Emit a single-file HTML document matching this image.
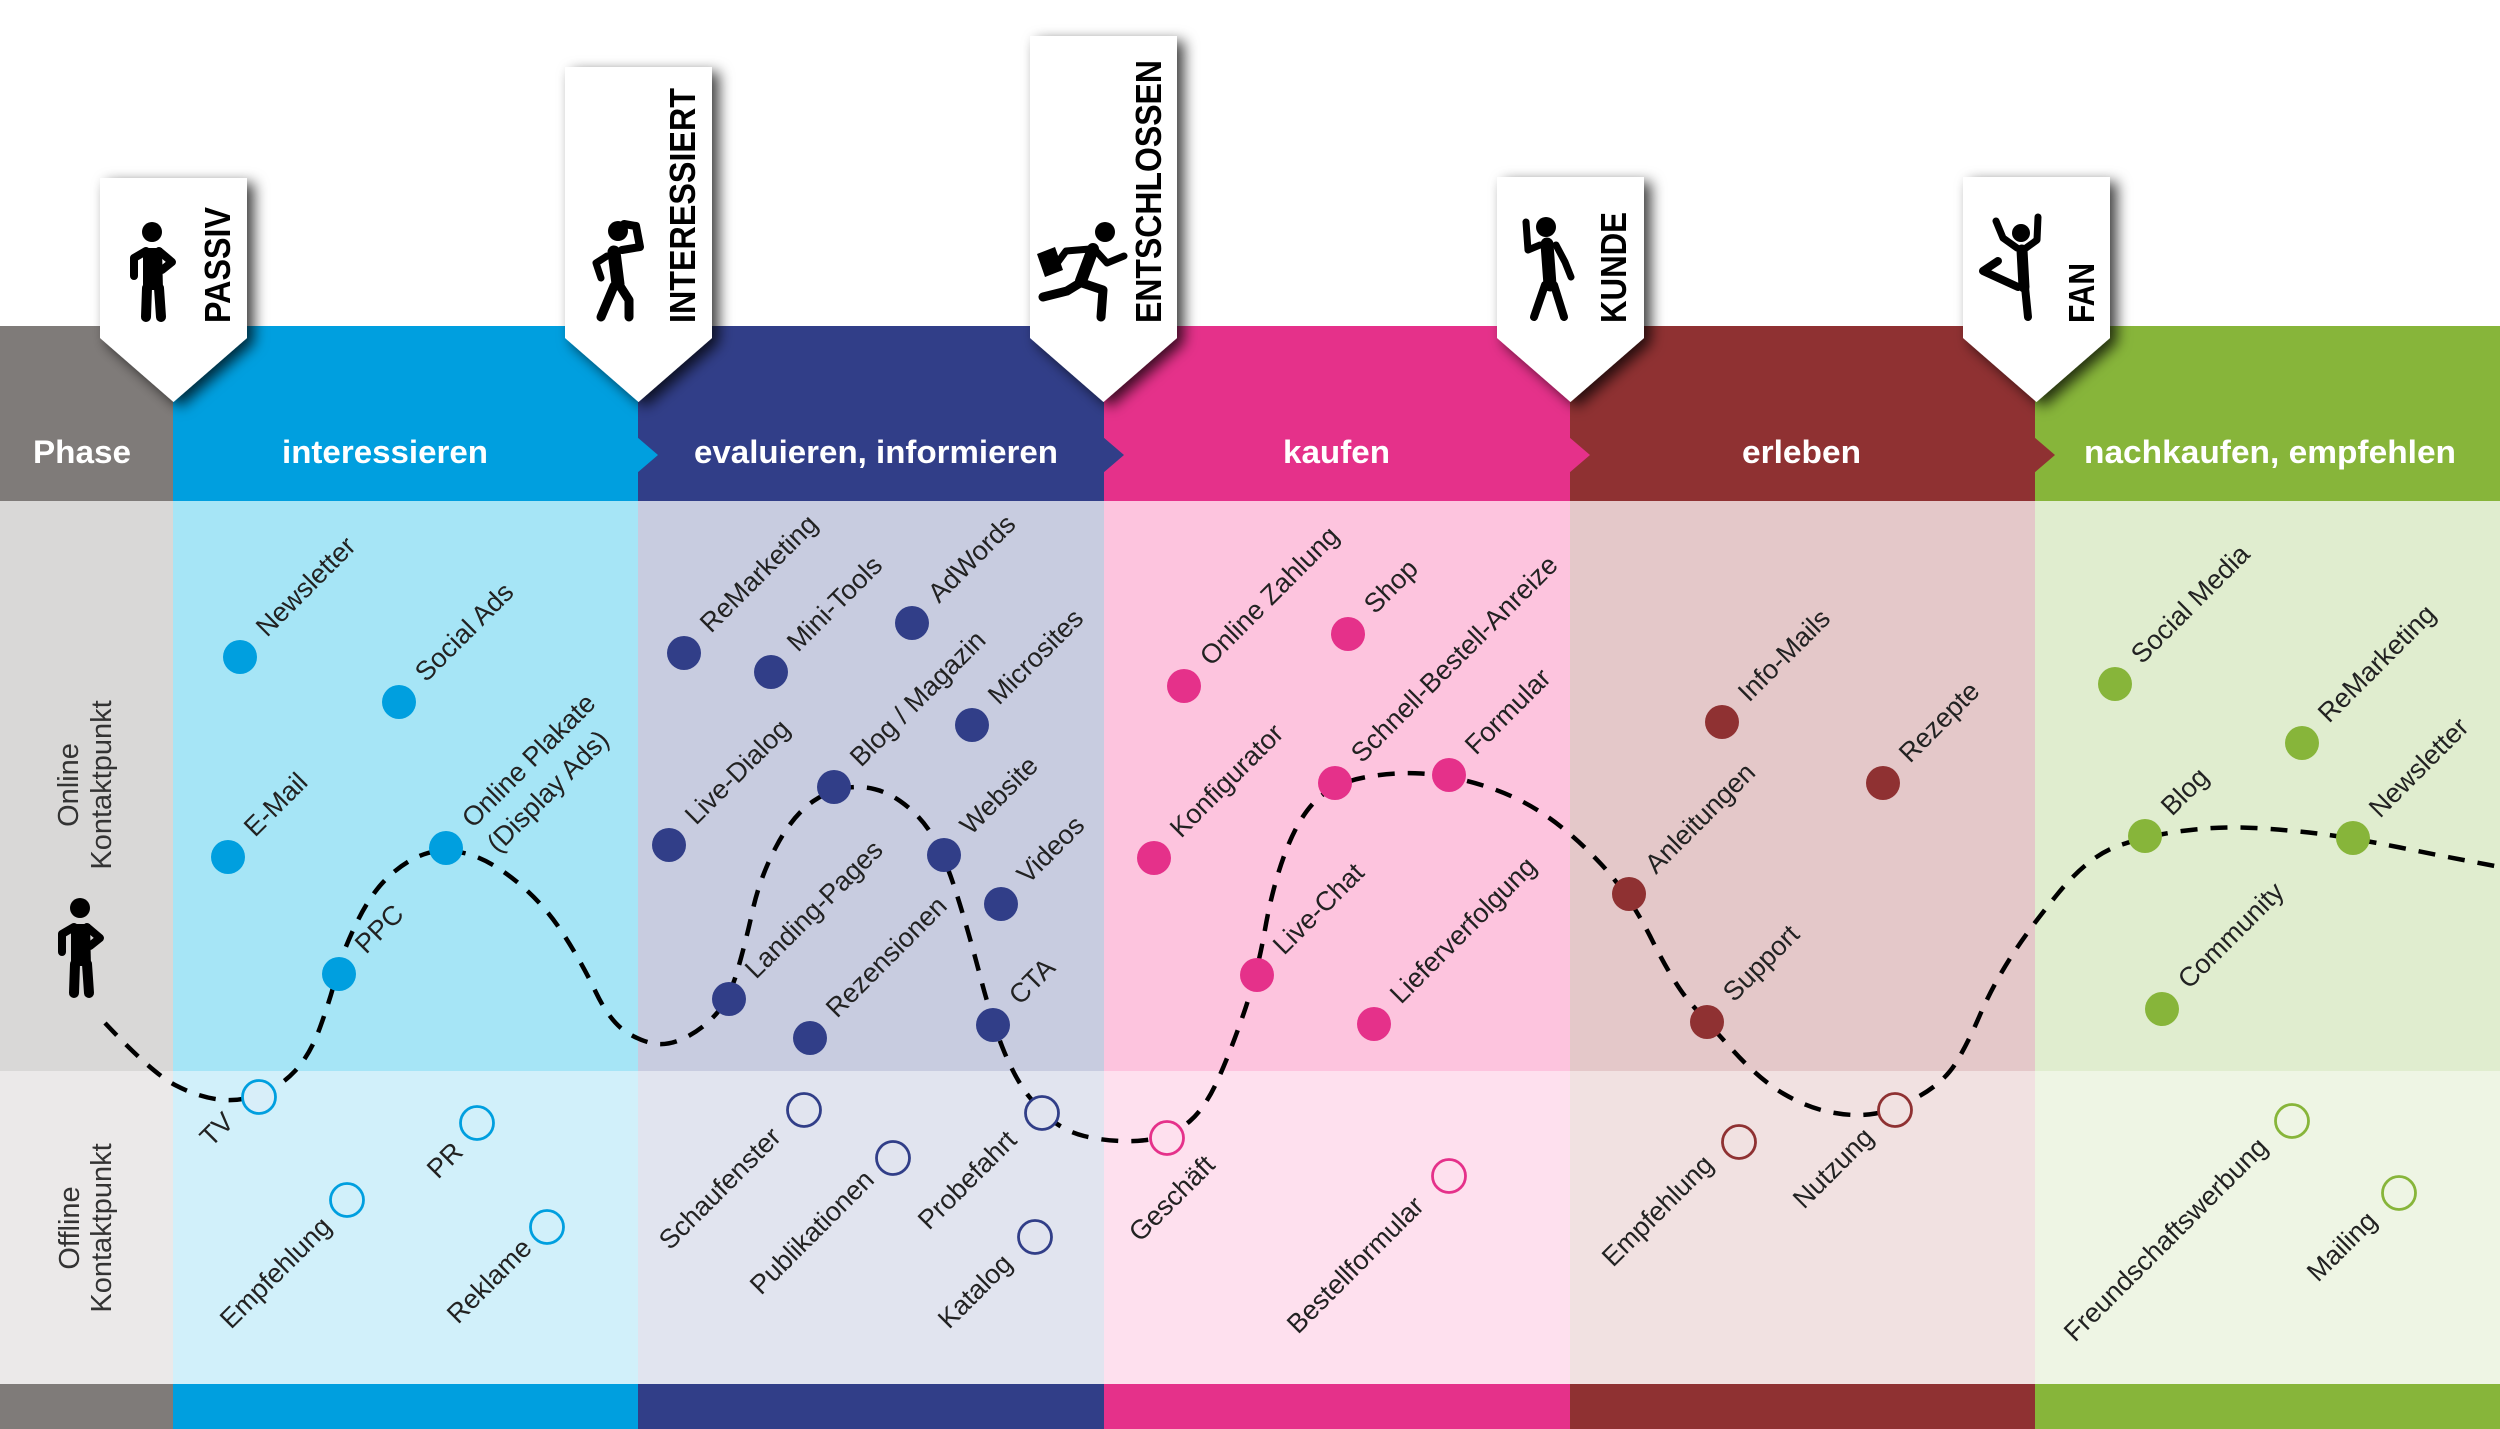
<!DOCTYPE html>
<html><head><meta charset="utf-8">
<style>
html,body{margin:0;padding:0;background:#fff;}
svg{display:block;}
.l{font-family:"Liberation Sans",sans-serif;font-size:27px;fill:#222;}
.h{font-family:"Liberation Sans",sans-serif;font-size:32px;font-weight:bold;fill:#fff;}
.t{font-family:"Liberation Sans",sans-serif;font-size:36px;font-weight:bold;fill:#000;}
.p{font-family:"Liberation Sans",sans-serif;font-size:29px;fill:#333;}
.fig{stroke:#000;stroke-linecap:round;stroke-linejoin:round;fill:none;}
</style></head>
<body>
<svg width="2500" height="1429" viewBox="0 0 2500 1429" xmlns="http://www.w3.org/2000/svg">
<defs>
<filter id="sh" x="-40%" y="-20%" width="180%" height="150%">
<feDropShadow dx="7" dy="5" stdDeviation="7" flood-color="#000" flood-opacity="0.75"/>
</filter>
</defs>
<rect width="2500" height="1429" fill="#fff"/>
<!-- header -->
<rect x="0" y="326" width="173" height="175" fill="#7f7b79"/>
<rect x="173" y="326" width="465" height="175" fill="#009fdf"/>
<rect x="638" y="326" width="466" height="175" fill="#313e88"/>
<rect x="1104" y="326" width="466" height="175" fill="#e5318a"/>
<rect x="1570" y="326" width="465" height="175" fill="#8f3132"/>
<rect x="2035" y="326" width="465" height="175" fill="#87b53a"/>
<!-- online -->
<rect x="0" y="501" width="173" height="570" fill="#d9d8d7"/>
<rect x="173" y="501" width="465" height="570" fill="#a6e5f6"/>
<rect x="638" y="501" width="466" height="570" fill="#c8cce0"/>
<rect x="1104" y="501" width="466" height="570" fill="#fdc4de"/>
<rect x="1570" y="501" width="465" height="570" fill="#e4c8c9"/>
<rect x="2035" y="501" width="465" height="570" fill="#e0edcf"/>
<!-- offline -->
<rect x="0" y="1071" width="173" height="313" fill="#ebe9e9"/>
<rect x="173" y="1071" width="465" height="313" fill="#d1f0fa"/>
<rect x="638" y="1071" width="466" height="313" fill="#e1e4ef"/>
<rect x="1104" y="1071" width="466" height="313" fill="#fee0ee"/>
<rect x="1570" y="1071" width="465" height="313" fill="#f1e1e1"/>
<rect x="2035" y="1071" width="465" height="313" fill="#eef5e4"/>
<!-- bottom -->
<rect x="0" y="1384" width="173" height="45" fill="#7f7b79"/>
<rect x="173" y="1384" width="465" height="45" fill="#009fdf"/>
<rect x="638" y="1384" width="466" height="45" fill="#313e88"/>
<rect x="1104" y="1384" width="466" height="45" fill="#e5318a"/>
<rect x="1570" y="1384" width="465" height="45" fill="#8f3132"/>
<rect x="2035" y="1384" width="465" height="45" fill="#87b53a"/>
<!-- arrow tips -->
<polygon points="637,437 658,455 637,473" fill="#009fdf"/>
<polygon points="1103,437 1124,455 1103,473" fill="#313e88"/>
<polygon points="1569,437 1590,455 1569,473" fill="#e5318a"/>
<polygon points="2034,437 2055,455 2034,473" fill="#8f3132"/>
<!-- header text -->
<text class="h" x="33" y="463" textLength="98" lengthAdjust="spacingAndGlyphs">Phase</text>
<text class="h" x="282" y="463" textLength="206" lengthAdjust="spacingAndGlyphs">interessieren</text>
<text class="h" x="694" y="463" textLength="364" lengthAdjust="spacingAndGlyphs">evaluieren, informieren</text>
<text class="h" x="1283" y="463" textLength="107" lengthAdjust="spacingAndGlyphs">kaufen</text>
<text class="h" x="1742" y="463" textLength="119" lengthAdjust="spacingAndGlyphs">erleben</text>
<text class="h" x="2084" y="463" textLength="372" lengthAdjust="spacingAndGlyphs">nachkaufen, empfehlen</text>
<!-- tabs -->
<g filter="url(#sh)" fill="#fff">
<polygon points="100,178 247,178 247,338 173.5,402 100,338"/>
<polygon points="565,67 712,67 712,338 638.5,402 565,338"/>
<polygon points="1030,36 1177,36 1177,338 1103.5,402 1030,338"/>
<polygon points="1497,177 1644,177 1644,338 1570.5,402 1497,338"/>
<polygon points="1963,177 2110,177 2110,338 2036.5,402 1963,338"/>
</g>
<text class="t" transform="translate(230,323) rotate(-90)" textLength="116" lengthAdjust="spacingAndGlyphs">PASSIV</text>
<text class="t" transform="translate(695,323) rotate(-90)" textLength="235" lengthAdjust="spacingAndGlyphs">INTERESSIERT</text>
<text class="t" transform="translate(1161,323) rotate(-90)" textLength="263" lengthAdjust="spacingAndGlyphs">ENTSCHLOSSEN</text>
<text class="t" transform="translate(1626,323) rotate(-90)" textLength="111" lengthAdjust="spacingAndGlyphs">KUNDE</text>
<text class="t" transform="translate(2094,323) rotate(-90)" textLength="60" lengthAdjust="spacingAndGlyphs">FAN</text>
<!-- figures -->
<g>
<circle cx="152" cy="232" r="10" fill="#000"/>
<path d="M143 248 L162 248 L163 290 L143 290 Z" fill="#000"/>
<path class="fig" stroke-width="8" d="M146 251 L134 258 L134 276"/>
<path class="fig" stroke-width="8" d="M159 251 L172 262 L162 270"/>
<path class="fig" stroke-width="10" d="M147 288 L146 317 M159 288 L161 317"/>
</g>
<g transform="translate(-72,676)">
<circle cx="152" cy="232" r="10" fill="#000"/>
<path d="M143 248 L162 248 L163 290 L143 290 Z" fill="#000"/>
<path class="fig" stroke-width="8" d="M146 251 L134 258 L134 276"/>
<path class="fig" stroke-width="8" d="M159 251 L172 262 L162 270"/>
<path class="fig" stroke-width="10" d="M147 288 L146 317 M159 288 L161 317"/>
</g>
<g>
<circle cx="618" cy="231" r="10" fill="#000"/>
<path class="fig" stroke-width="8" d="M622 250 L640 247 L636 226 L624 224"/>
<path class="fig" stroke-width="13" d="M614 252 L618 284"/>
<path class="fig" stroke-width="7" d="M607 256 L596 263 L601 278"/>
<path class="fig" stroke-width="9" d="M614 286 L601 317 M620 286 L629 300 L629 317"/>
</g>
<g>
<circle cx="1105" cy="232" r="10" fill="#000"/>
<path class="fig" stroke-width="12" d="M1093 249 L1081 281"/>
<path class="fig" stroke-width="7" d="M1097 252 L1107 263 L1124 256"/>
<path class="fig" stroke-width="7" d="M1090 249 L1066 251 L1058 262"/>
<polygon points="1037,254 1055,247 1063,270 1045,277" fill="#000"/>
<path class="fig" stroke-width="9" d="M1080 283 L1067 291 L1043 297 M1082 283 L1103 290 L1101 317"/>
</g>
<g>
<circle cx="1546" cy="227" r="10" fill="#000"/>
<path class="fig" stroke-width="7" d="M1540 245 L1528 250 L1526 222"/>
<path class="fig" stroke-width="13" d="M1547 244 L1550 285"/>
<path class="fig" stroke-width="7" d="M1556 245 L1565 262 L1571 277"/>
<path class="fig" stroke-width="8" d="M1545 285 L1534 317 M1554 285 L1564 317"/>
</g>
<g>
<circle cx="2021" cy="233" r="9" fill="#000"/>
<path class="fig" stroke-width="7" d="M2017 248 L2003 238 L1996 221 M2026 248 L2037 240 L2038 217"/>
<path class="fig" stroke-width="11" d="M2022 250 L2024 287"/>
<path class="fig" stroke-width="8" d="M2025 287 L2028 317 M2018 287 L1983 271 L1998 261"/>
</g>
<!-- dashed journey -->
<path fill="none" stroke="#000" stroke-width="4.5" stroke-dasharray="17 13" d="M105 1023 Q152 1073 175 1085 Q198 1097 219 1099.5 Q240 1102 260 1094.5 Q280 1087 295 1071 Q310 1055 320 1027.5 Q330 1000 336.5 975 Q343 950 358 920 Q373 890 391.5 874 Q410 858 428 853 Q446 848 468 854 Q490 860 516.5 881.5 Q543 903 562 932 Q581 961 595.5 991.5 Q610 1022 627 1032.5 Q644 1043 658 1044 Q672 1045 688.5 1036 Q705 1027 717 1013 Q729 999 737 972 Q745 945 752.5 911 Q760 877 776.5 846 Q793 815 813.5 801 Q834 787 857 787 Q880 787 900 801 Q920 815 932 835 Q944 855 955.5 890.5 Q967 926 980 975.5 Q993 1025 1004.5 1052.5 Q1016 1080 1029 1096.5 Q1042 1113 1055 1122.5 Q1068 1132 1084 1136 Q1100 1140 1120 1141 Q1140 1142 1157.5 1138 Q1175 1134 1190 1121 Q1205 1108 1217.5 1080.5 Q1230 1053 1243.5 1014 Q1257 975 1265 929.5 Q1273 884 1286.5 849.5 Q1300 815 1317.5 799 Q1335 783 1364 777.5 Q1393 772 1421 773.5 Q1449 775 1483 785.5 Q1517 796 1545 815 Q1573 834 1601 864 Q1629 894 1651.5 939 Q1674 984 1690.5 1003 Q1707 1022 1733.5 1051 Q1760 1080 1784 1094 Q1808 1108 1832 1112.5 Q1856 1117 1875.5 1113.5 Q1895 1110 1919.5 1096 Q1944 1082 1955.5 1063.5 Q1967 1045 1979.5 1016 Q1992 987 2010 958.5 Q2028 930 2058 893.5 Q2088 857 2116.5 846.5 Q2145 836 2182 831 Q2219 826 2254.5 828 Q2290 830 2321.5 834 Q2353 838 2400 847.5 Q2447 857 2500 867"/>
<!-- online dots -->
<g fill="#009fdf">
<circle cx="240" cy="657" r="17"/><circle cx="399" cy="702" r="17"/><circle cx="228" cy="857" r="17"/><circle cx="446" cy="848" r="17"/><circle cx="339" cy="974" r="17"/>
</g>
<g fill="#313e88">
<circle cx="684" cy="653" r="17"/><circle cx="771" cy="672" r="17"/><circle cx="912" cy="623" r="17"/><circle cx="972" cy="725" r="17"/><circle cx="669" cy="845" r="17"/><circle cx="834" cy="787" r="17"/><circle cx="944" cy="855" r="17"/><circle cx="1001" cy="904" r="17"/><circle cx="729" cy="999" r="17"/><circle cx="810" cy="1038" r="17"/><circle cx="993" cy="1025" r="17"/>
</g>
<g fill="#e5318a">
<circle cx="1184" cy="686" r="17"/><circle cx="1348" cy="634" r="17"/><circle cx="1154" cy="858" r="17"/><circle cx="1335" cy="783" r="17"/><circle cx="1449" cy="775" r="17"/><circle cx="1257" cy="975" r="17"/><circle cx="1374" cy="1024" r="17"/>
</g>
<g fill="#8f3132">
<circle cx="1722" cy="722" r="17"/><circle cx="1883" cy="783" r="17"/><circle cx="1629" cy="894" r="17"/><circle cx="1707" cy="1022" r="17"/>
</g>
<g fill="#87b53a">
<circle cx="2115" cy="684" r="17"/><circle cx="2302" cy="743" r="17"/><circle cx="2145" cy="836" r="17"/><circle cx="2353" cy="838" r="17"/><circle cx="2162" cy="1009" r="17"/>
</g>
<!-- offline circles -->
<g stroke-width="2.8">
<circle cx="259" cy="1097" r="16.5" fill="#d8eef9" stroke="#009fdf"/>
<circle cx="477" cy="1123" r="16.5" fill="#d1f0fa" stroke="#009fdf"/>
<circle cx="347" cy="1200" r="16.5" fill="#d1f0fa" stroke="#009fdf"/>
<circle cx="547" cy="1227" r="16.5" fill="#d1f0fa" stroke="#009fdf"/>
<circle cx="804" cy="1110" r="16.5" fill="#e1e4ef" stroke="#313e88"/>
<circle cx="893" cy="1158" r="16.5" fill="#e1e4ef" stroke="#313e88"/>
<circle cx="1042" cy="1113" r="16.5" fill="#e1e4ef" stroke="#313e88"/>
<circle cx="1035" cy="1237" r="16.5" fill="#e1e4ef" stroke="#313e88"/>
<circle cx="1167" cy="1138" r="16.5" fill="#fee0ee" stroke="#e5318a"/>
<circle cx="1449" cy="1176" r="16.5" fill="#fee0ee" stroke="#e5318a"/>
<circle cx="1739" cy="1142" r="16.5" fill="#f1e1e1" stroke="#8f3132"/>
<circle cx="1895" cy="1110" r="16.5" fill="#f1e1e1" stroke="#8f3132"/>
<circle cx="2292" cy="1121" r="16.5" fill="#eef5e4" stroke="#87b53a"/>
<circle cx="2399" cy="1193" r="16.5" fill="#eef5e4" stroke="#87b53a"/>
</g>
<!-- online labels -->
<g>
<text class="l" transform="translate(267,638) rotate(-45)">Newsletter</text>
<text class="l" transform="translate(426,683) rotate(-45)">Social Ads</text>
<text class="l" transform="translate(255,838) rotate(-45)">E-Mail</text>
<text class="l" transform="translate(473,829) rotate(-45)">Online Plakate</text>
<text class="l" transform="translate(498,854) rotate(-45)">(Display Ads)</text>
<text class="l" transform="translate(366,955) rotate(-45)">PPC</text>
<text class="l" transform="translate(711,634) rotate(-45)">ReMarketing</text>
<text class="l" transform="translate(798,653) rotate(-45)">Mini-Tools</text>
<text class="l" transform="translate(939,604) rotate(-45)">AdWords</text>
<text class="l" transform="translate(999,706) rotate(-45)">Microsites</text>
<text class="l" transform="translate(696,826) rotate(-45)">Live-Dialog</text>
<text class="l" transform="translate(861,768) rotate(-45)">Blog / Magazin</text>
<text class="l" transform="translate(971,836) rotate(-45)">Website</text>
<text class="l" transform="translate(1028,885) rotate(-45)">Videos</text>
<text class="l" transform="translate(756,980) rotate(-45)">Landing-Pages</text>
<text class="l" transform="translate(837,1019) rotate(-45)">Rezensionen</text>
<text class="l" transform="translate(1020,1006) rotate(-45)">CTA</text>
<text class="l" transform="translate(1211,667) rotate(-45)">Online Zahlung</text>
<text class="l" transform="translate(1375,615) rotate(-45)">Shop</text>
<text class="l" transform="translate(1181,839) rotate(-45)">Konfigurator</text>
<text class="l" transform="translate(1362,764) rotate(-45)">Schnell-Bestell-Anreize</text>
<text class="l" transform="translate(1476,756) rotate(-45)">Formular</text>
<text class="l" transform="translate(1284,956) rotate(-45)">Live-Chat</text>
<text class="l" transform="translate(1401,1005) rotate(-45)">Lieferverfolgung</text>
<text class="l" transform="translate(1749,703) rotate(-45)">Info-Mails</text>
<text class="l" transform="translate(1910,764) rotate(-45)">Rezepte</text>
<text class="l" transform="translate(1656,875) rotate(-45)">Anleitungen</text>
<text class="l" transform="translate(1734,1003) rotate(-45)">Support</text>
<text class="l" transform="translate(2142,665) rotate(-45)">Social Media</text>
<text class="l" transform="translate(2329,724) rotate(-45)">ReMarketing</text>
<text class="l" transform="translate(2172,817) rotate(-45)">Blog</text>
<text class="l" transform="translate(2380,819) rotate(-45)">Newsletter</text>
<text class="l" transform="translate(2189,990) rotate(-45)">Community</text>
<!-- offline labels -->
<text class="l" transform="translate(211,1148) rotate(-45)">TV</text>
<text class="l" transform="translate(231,1330) rotate(-45)">Empfehlung</text>
<text class="l" transform="translate(438,1180) rotate(-45)">PR</text>
<text class="l" transform="translate(458,1325) rotate(-45)">Reklame</text>
<text class="l" transform="translate(670,1251) rotate(-45)">Schaufenster</text>
<text class="l" transform="translate(761,1296) rotate(-45)">Publikationen</text>
<text class="l" transform="translate(929,1231) rotate(-45)">Probefahrt</text>
<text class="l" transform="translate(949,1330) rotate(-45)">Katalog</text>
<text class="l" transform="translate(1140,1243) rotate(-45)">Geschäft</text>
<text class="l" transform="translate(1298,1335) rotate(-45)">Bestellformular</text>
<text class="l" transform="translate(1613,1268) rotate(-45)">Empfehlung</text>
<text class="l" transform="translate(1804,1210) rotate(-45)">Nutzung</text>
<text class="l" transform="translate(2075,1343) rotate(-45)">Freundschaftswerbung</text>
<text class="l" transform="translate(2318,1283) rotate(-45)">Mailing</text>
</g>
<!-- phase labels -->
<text class="p" text-anchor="middle" transform="translate(78,785) rotate(-90)">Online</text>
<text class="p" text-anchor="middle" transform="translate(111,785) rotate(-90)">Kontaktpunkt</text>
<text class="p" text-anchor="middle" transform="translate(79,1228) rotate(-90)">Offline</text>
<text class="p" text-anchor="middle" transform="translate(111,1228) rotate(-90)">Kontaktpunkt</text>
</svg>
</body></html>
